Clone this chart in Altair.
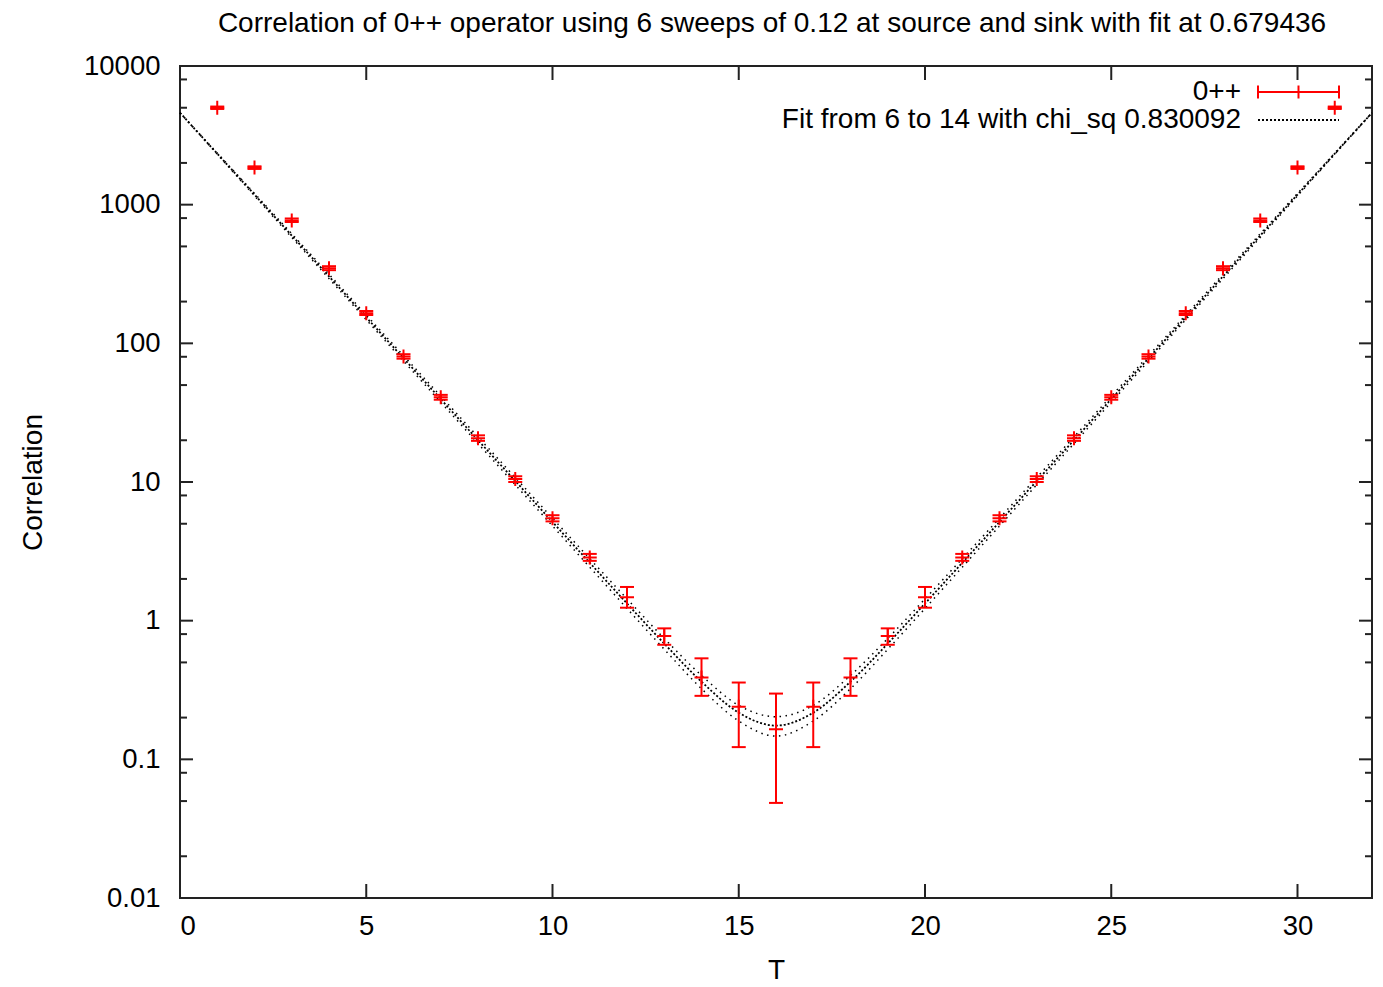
import altair as alt
import pandas as pd

# ---- data ----
T_vals = list(range(1, 32))
corr = [5000, 1850, 770, 348, 165, 80.5, 40.8, 20.7, 10.5, 5.47, 2.86, 1.475, 0.774, 0.389, 0.239, 0.165,
        0.239, 0.389, 0.774, 1.475, 2.86, 5.47, 10.5, 20.7, 40.8, 80.5, 165, 348, 770, 1850, 5000]
err_lo = [4900, 1810, 750, 337, 160, 77.5, 39.2, 19.8, 10.0, 5.2, 2.7, 1.24, 0.67, 0.287, 0.1225, 0.0485,
          0.1225, 0.287, 0.67, 1.24, 2.7, 5.2, 10.0, 19.8, 39.2, 77.5, 160, 337, 750, 1810, 4900]
err_hi = [5100, 1890, 795, 360, 171, 83.5, 42.5, 21.7, 11.0, 5.76, 3.03, 1.75, 0.88, 0.535, 0.358, 0.298,
          0.358, 0.535, 0.88, 1.75, 3.03, 5.76, 11.0, 21.7, 42.5, 83.5, 171, 360, 795, 1890, 5100]

fit_T = list(range(0, 33))
fit_mid = [4600, 2332, 1182, 599, 304, 154, 78.0, 39.6, 20.05, 10.17, 5.15, 2.615, 1.330, 0.683, 0.363, 0.217, 0.175,
           0.217, 0.363, 0.683, 1.330, 2.615, 5.15, 10.17, 20.05, 39.6, 78.0, 154, 304, 599, 1182, 2332, 4600]
fit_up = [4600, 2355, 1206, 617, 315, 160, 81.5, 41.6, 21.15, 10.78, 5.48, 2.80, 1.436, 0.744, 0.403, 0.245, 0.203,
          0.245, 0.403, 0.744, 1.436, 2.80, 5.48, 10.78, 21.15, 41.6, 81.5, 160, 315, 617, 1206, 2355, 4600]
fit_dn = [4600, 2309, 1158, 581, 293, 148, 74.5, 37.6, 18.95, 9.56, 4.82, 2.43, 1.224, 0.622, 0.323, 0.189, 0.147,
          0.189, 0.323, 0.622, 1.224, 2.43, 4.82, 9.56, 18.95, 37.6, 74.5, 148, 293, 581, 1158, 2309, 4600]

x_ticks = [0, 5, 10, 15, 20, 25, 30]
y_major = [0.01, 0.1, 1, 10, 100, 1000, 10000]
y_minor = [0.02, 0.05, 0.08, 0.2, 0.5, 0.8, 2, 5, 8, 20, 50, 80, 200, 500, 800, 2000, 5000, 8000]

legend_labels = ["0++", "Fit from 6 to 14 with chi_sq 0.830092"]
title_text = "Correlation of 0++ operator using 6 sweeps of 0.12 at source and sink with fit at 0.679436"

# ---- tables ----
df = pd.DataFrame({"T": T_vals, "corr": corr, "lo": err_lo, "hi": err_hi})
fit_df = pd.DataFrame({"T": fit_T, "mid": fit_mid, "up": fit_up, "dn": fit_dn})
xt_df = pd.DataFrame({"v": x_ticks})
ymaj_df = pd.DataFrame({"v": y_major})
ymin_df = pd.DataFrame({"v": y_minor})
leg0 = pd.DataFrame({"label": [legend_labels[0]]})
leg1 = pd.DataFrame({"label": [legend_labels[1]]})
title_df = pd.DataFrame({"label": [title_text]})

W, H = 1192, 832
FONT = "Liberation Sans"
RED = "#ff0000"
FS = 28

x_scale = alt.Scale(domain=[0, 32], nice=False, zero=False)
y_scale = alt.Scale(type="log", domain=[0.01, 10000], nice=False)

X_AXIS = alt.Axis(values=x_ticks, ticks=False, tickSize=0, domain=False, grid=False,
                  labelFontSize=27.5, labelPadding=14, labelFont=FONT, labelColor="black",
                  title="T", titleFontSize=FS, titleFont=FONT, titleFontWeight="normal",
                  titleColor="black", titleY=80, titleBaseline="alphabetic")
Y_AXIS = alt.Axis(values=y_major, format="~g", ticks=False, tickSize=0, domain=False, grid=False,
                  labelFontSize=27.5, labelPadding=20, labelFont=FONT, labelColor="black",
                  title="Correlation", titleFontSize=FS, titleFont=FONT, titleFontWeight="normal",
                  titleColor="black", titleX=-139, titleY=416, titleAngle=270,
                  titleBaseline="alphabetic", titleAlign="center")


def X(f):
    return alt.X(f"{f}:Q", scale=x_scale, axis=X_AXIS)


def Y(f):
    return alt.Y(f"{f}:Q", scale=y_scale, axis=Y_AXIS)


# fit curves
fit_center = alt.Chart(fit_df).mark_line(color="black", strokeWidth=1.8, strokeDash=[2, 2],
                                         interpolate="monotone").encode(x=X("T"), y=Y("mid"))
fit_upper = alt.Chart(fit_df).mark_line(color="black", strokeWidth=1.5, strokeDash=[1.5, 4.5],
                                        interpolate="monotone").encode(x=X("T"), y=Y("up"))
fit_lower = alt.Chart(fit_df).mark_line(color="black", strokeWidth=1.5, strokeDash=[1.5, 4.5],
                                        interpolate="monotone").encode(x=X("T"), y=Y("dn"))

# error bars
bars = alt.Chart(df).mark_rule(color=RED, strokeWidth=2).encode(x=X("T"), y=Y("lo"), y2=alt.Y2("hi"))
cap_lo = alt.Chart(df).mark_tick(color=RED, orient="horizontal", size=14, thickness=2, opacity=1).encode(
    x=X("T"), y=Y("lo"))
cap_hi = alt.Chart(df).mark_tick(color=RED, orient="horizontal", size=14, thickness=2, opacity=1).encode(
    x=X("T"), y=Y("hi"))
points = alt.Chart(df).mark_point(shape="M-1,0L1,0M0,-1L0,1", size=196, filled=False, color=RED,
                                  strokeWidth=2, opacity=1).encode(x=X("T"), y=Y("corr"))

# inward ticks (gnuplot style)
TK = "#222222"
ytick_l = alt.Chart(ymaj_df).mark_rule(color=TK, strokeWidth=2).encode(
    y=Y("v"), x=alt.value(0), x2=alt.value(13))
ytick_r = alt.Chart(ymaj_df).mark_rule(color=TK, strokeWidth=2).encode(
    y=Y("v"), x=alt.value(W - 13), x2=alt.value(W))
ymin_l = alt.Chart(ymin_df).mark_rule(color=TK, strokeWidth=2).encode(
    y=Y("v"), x=alt.value(0), x2=alt.value(7))
ymin_r = alt.Chart(ymin_df).mark_rule(color=TK, strokeWidth=2).encode(
    y=Y("v"), x=alt.value(W - 7), x2=alt.value(W))
xtick_b = alt.Chart(xt_df).mark_rule(color=TK, strokeWidth=2).encode(
    x=X("v"), y=alt.value(H - 14), y2=alt.value(H))
xtick_t = alt.Chart(xt_df).mark_rule(color=TK, strokeWidth=2).encode(
    x=X("v"), y=alt.value(0), y2=alt.value(14))

# title as text above the frame
title_mark = alt.Chart(title_df).mark_text(align="center", baseline="alphabetic", fontSize=FS, font=FONT,
                                           color="black").encode(x=alt.value(592), y=alt.value(-34),
                                                                 text="label:N")

# custom gnuplot-like key
LX0, LX1, LXM = 1078, 1159, 1118.5
LY0, LY1 = 26, 54
key_text0 = alt.Chart(leg0).mark_text(align="right", baseline="middle", fontSize=FS, font=FONT,
                                      color="black").encode(x=alt.value(1061), y=alt.value(LY0), text="label:N")
key_text1 = alt.Chart(leg1).mark_text(align="right", baseline="middle", fontSize=FS, font=FONT,
                                      color="black").encode(x=alt.value(1061), y=alt.value(LY1), text="label:N")
key_h = alt.Chart(leg0).mark_rule(color=RED, strokeWidth=2).encode(
    x=alt.value(LX0), x2=alt.value(LX1), y=alt.value(LY0))
key_c0 = alt.Chart(leg0).mark_rule(color=RED, strokeWidth=2).encode(
    x=alt.value(LX0), y=alt.value(LY0 - 6.5), y2=alt.value(LY0 + 6.5))
key_c1 = alt.Chart(leg0).mark_rule(color=RED, strokeWidth=2).encode(
    x=alt.value(LXM), y=alt.value(LY0 - 6.5), y2=alt.value(LY0 + 6.5))
key_c2 = alt.Chart(leg0).mark_rule(color=RED, strokeWidth=2).encode(
    x=alt.value(LX1), y=alt.value(LY0 - 6.5), y2=alt.value(LY0 + 6.5))
key_fit = alt.Chart(leg1).mark_rule(color="black", strokeWidth=1.8, strokeDash=[2, 2]).encode(
    x=alt.value(LX0), x2=alt.value(LX1), y=alt.value(LY1))

chart = alt.layer(
    fit_upper, fit_lower, fit_center,
    bars, cap_lo, cap_hi, points,
    ytick_l, ytick_r, ymin_l, ymin_r, xtick_b, xtick_t,
    title_mark,
    key_text0, key_text1, key_h, key_c0, key_c1, key_c2, key_fit,
).properties(
    width=W, height=H,
    padding={"left": 180, "top": 66, "right": 11, "bottom": 89},
    autosize=alt.AutoSizeParams(type="none"),
).configure_view(stroke="#222222", strokeWidth=2)

chart.save("out.html", embed_options={"renderer": "svg", "actions": False})
